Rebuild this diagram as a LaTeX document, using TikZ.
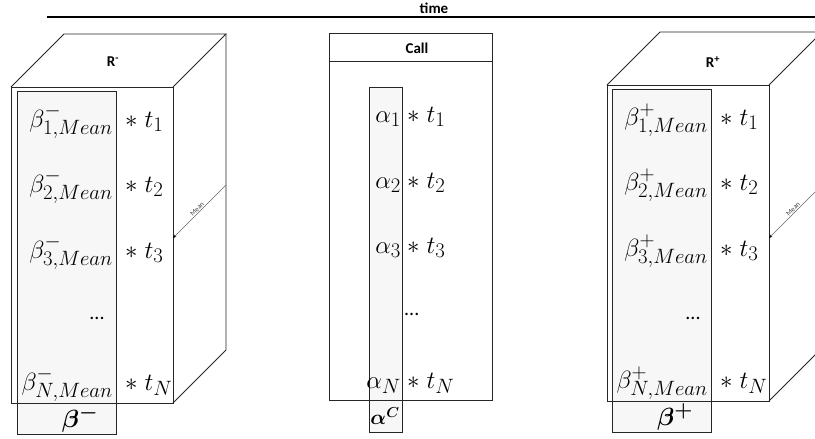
\documentclass[tikz,border=0pt]{standalone}
\usepackage{fontspec}
\usepackage{bm}
\usetikzlibrary{arrows.meta}
\newfontfamily\carl{Carlito}
\DeclareMathSizes{24}{24}{20}{15}
\tikzset{
  edge/.style={draw=black!85, line width=0.8pt},
  col/.style={draw=black!85, line width=0.8pt, fill=black!3},
  hdr/.style={font=\carl\bfseries\fontsize{15}{17}\selectfont, inner sep=0pt},
  mth/.style={font=\fontsize{24}{28}\selectfont, inner sep=0pt},
  lbl/.style={mth, anchor=base east},
  trm/.style={mth, anchor=base west},
  dotsl/.style={font=\carl\fontsize{20}{22}\selectfont, inner sep=0pt},
  meanarrow/.style={draw=black!60, line width=0.4pt, {Stealth[length=3.5pt,width=3pt,black]}-},
  meanlbl/.style={font=\carl\fontsize{7}{8}\selectfont, text=black!75, sloped, above, inner sep=0.8pt, pos=0.5},
}
\begin{document}
\begin{tikzpicture}[x=1pt,y=1pt]
\clip (0,0) rectangle (815,-439);
% time axis
\node[hdr] (time) at (434,-8) {time};
\coordinate (tl) at (47,-17);
\coordinate (tr) at (815,-17);
\draw[line width=1.2pt] (tl) -- (tr);

% ---------- left cube R- ----------
\draw[edge] (11,-87) rectangle (173,-403);
\draw[edge] (11,-87) -- (64,-34) -- (226,-34) -- (173,-87);
\draw[edge] (226,-34) -- (226,-350) -- (173,-403);
\node[hdr] (Rm) at (113,-62) {R\textsuperscript{-}};
\draw[col] (17,-91) rectangle (116,-403);
\draw[col] (17,-403) rectangle (116,-434);
\node[mth] (bmin) at (80,-419) {$\bm{\beta^{-}}$};
\node[lbl] (lb1) at (113,-127) {$\beta^-_{1,Mean}$};
\node[lbl] (lb2) at (113,-192) {$\beta^-_{2,Mean}$};
\node[lbl] (lb3) at (113,-258) {$\beta^-_{3,Mean}$};
\node[dotsl] (ldots) at (97,-318) {...};
\node[lbl] (lbN) at (113,-390) {$\beta^-_{N,Mean}$};
\node[trm] (lt1) at (125,-127) {$\ast\; t_1$};
\node[trm] (lt2) at (125,-192) {$\ast\; t_2$};
\node[trm] (lt3) at (125,-258) {$\ast\; t_3$};
\node[trm] (ltN) at (125,-390) {$\ast\; t_N$};
\coordinate (lmb) at (226,-185);
\coordinate (lmf) at (173,-238);
\draw[meanarrow] (lmf) -- node[meanlbl] {Mean} (lmb);

% ---------- Call box ----------
\draw[edge] (329,-33) rectangle (492,-400);
\draw[edge] (329,-61) -- (492,-61);
\node[hdr] (call) at (417,-48) {Call};
\draw[col] (369,-87) rectangle (402,-400);
\draw[col] (369,-400) rectangle (402,-432);
\node[mth, font=\fontsize{20}{24}\selectfont] (ac) at (385,-416) {$\bm{\alpha^{C}}$};
\node[lbl] (a1) at (401,-122) {$\alpha_1$};
\node[lbl] (a2) at (401,-188) {$\alpha_2$};
\node[lbl] (a3) at (401,-253) {$\alpha_3$};
\node[dotsl, anchor=west] (cdots) at (404,-314) {...};
\node[lbl] (aN) at (401,-388) {$\alpha_N$};
\node[trm] (ct1) at (407,-122) {$\ast\; t_1$};
\node[trm] (ct2) at (407,-188) {$\ast\; t_2$};
\node[trm] (ct3) at (407,-253) {$\ast\; t_3$};
\node[trm] (ctN) at (407,-388) {$\ast\; t_N$};

% ---------- right cube R+ ----------
\draw[edge] (607,-85) rectangle (769,-401);
\draw[edge] (607,-85) -- (660,-32) -- (822,-32) -- (769,-85);
\draw[edge] (822,-32) -- (822,-348) -- (769,-401);
\node[hdr] (Rp) at (713,-62) {R\textsuperscript{+}};
\draw[col] (612,-89) rectangle (711,-401);
\draw[col] (612,-401) rectangle (711,-432);
\node[mth] (bplus) at (675,-417) {$\bm{\beta^{+}}$};
\node[lbl] (rb1) at (708,-125) {$\beta^+_{1,Mean}$};
\node[lbl] (rb2) at (708,-190) {$\beta^+_{2,Mean}$};
\node[lbl] (rb3) at (708,-256) {$\beta^+_{3,Mean}$};
\node[dotsl] (rdots) at (693,-318) {...};
\node[lbl] (rbN) at (708,-388) {$\beta^+_{N,Mean}$};
\node[trm] (rt1) at (720,-125) {$\ast\; t_1$};
\node[trm] (rt2) at (720,-190) {$\ast\; t_2$};
\node[trm] (rt3) at (720,-256) {$\ast\; t_3$};
\node[trm] (rtN) at (720,-388) {$\ast\; t_N$};
\coordinate (rmb) at (822,-185);
\coordinate (rmf) at (769,-238);
\draw[meanarrow] (rmf) -- node[meanlbl] {Mean} (rmb);
\end{tikzpicture}
\end{document}
